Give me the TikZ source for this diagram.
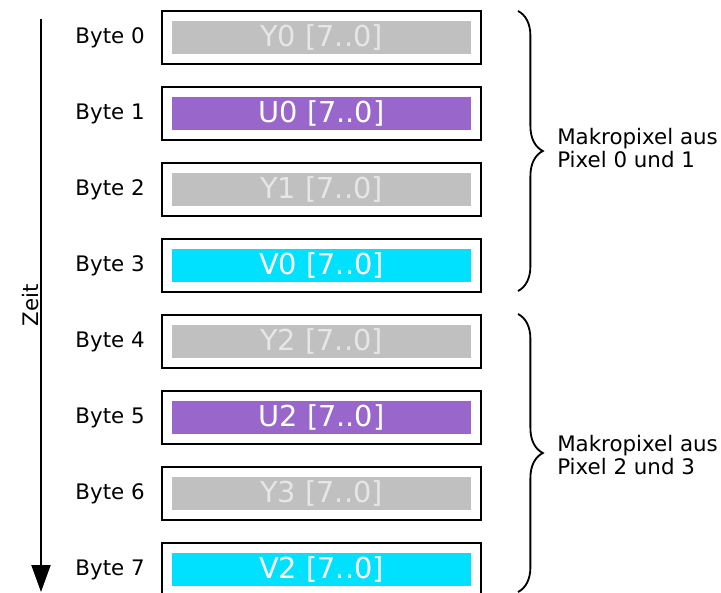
\documentclass[tikz,border=0pt]{standalone}
\usepackage{fontspec}
\setmainfont{DejaVu Sans}
\usetikzlibrary{arrows.meta,positioning,decorations.pathreplacing}

\definecolor{ygrau}{HTML}{C0C0C0}
\definecolor{ulila}{HTML}{9966CC}
\definecolor{vcyan}{HTML}{00E1FF}
\definecolor{yschrift}{HTML}{E6E6E6}

\begin{document}
\begin{tikzpicture}[
    x=0.025cm, y=-0.025cm,
    rahmen/.style={draw, line width=1.4pt, minimum width=7.975cm, minimum height=1.325cm, inner sep=0pt},
    feld/.style={minimum width=7.475cm, minimum height=0.825cm, inner sep=0pt, font=\fontsize{20.5}{24}\selectfont},
    bytelbl/.style={inner sep=0pt, font=\fontsize{15.2}{18}\selectfont},
    klammer/.style={decorate, decoration={brace, amplitude=0.62cm}, line width=1.3pt},
    info/.style={anchor=west, align=left, inner sep=0pt, font=\fontsize{15.2}{16.6}\selectfont},
    pfeil/.style={-{Triangle[width=0.475cm, length=0.675cm]}, line width=1.4pt}
]
\useasboundingbox (0,0) rectangle (721,592);

% Bytes
\foreach \i/\c/\tc/\t in {0/ygrau/yschrift/Y0, 1/ulila/white/U0, 2/ygrau/yschrift/Y1, 3/vcyan/white/V0,
                          4/ygrau/yschrift/Y2, 5/ulila/white/U2, 6/ygrau/yschrift/Y3, 7/vcyan/white/V2} {
  \node[rahmen] (b\i) at (321.5, 37.5+76*\i) {};
  \node[feld, fill=\c, text=\tc] (f\i) at (b\i.center) {\t\ [7..0]};
  \node[bytelbl, left=0.4cm of b\i] (l\i) {Byte \i};
}

% Zeitachse
\coordinate (zoben) at (41,19);
\coordinate (zunten) at (41,592);
\draw[pfeil] (zoben) -- (zunten);
\node[bytelbl, rotate=90] (zeit) at (31,305) {Zeit};

% Makropixel
\coordinate (k1a) at (518,11);
\coordinate (k1b) at (518,291);
\coordinate (k2a) at (518,314);
\coordinate (k2b) at (518,592);
\draw[klammer] (k1a) -- (k1b);
\draw[klammer] (k2a) -- (k2b);
\node[info] (m1) at (557,148) {Makropixel aus\\Pixel 0 und 1};
\node[info] (m2) at (557,455) {Makropixel aus\\Pixel 2 und 3};
\end{tikzpicture}
\end{document}
